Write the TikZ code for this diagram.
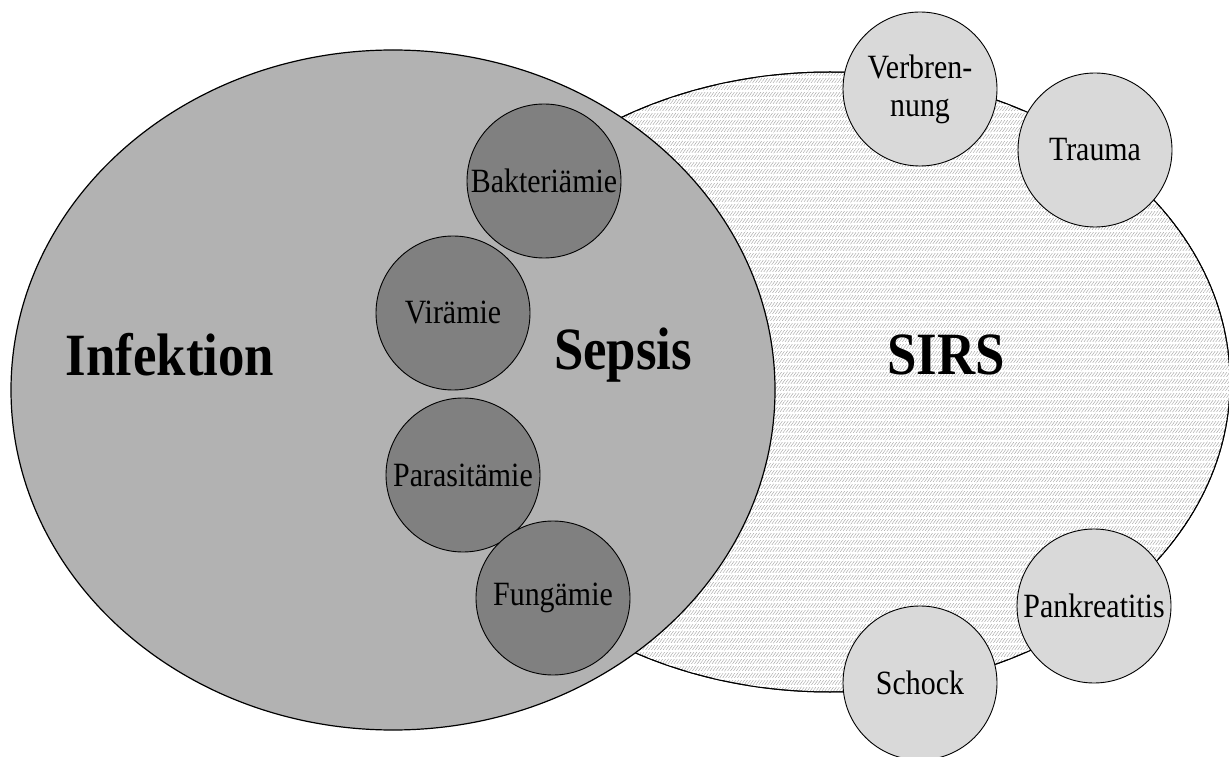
\documentclass[tikz,border=0pt]{standalone}
\usepackage{fontspec}
\setmainfont{Liberation Serif}
\newfontfamily\narrowserif[FakeStretch=0.88]{Liberation Serif}
\usepackage{tikz}
\usetikzlibrary{shapes.geometric,patterns.meta}

\begin{document}
\begin{tikzpicture}[x=1pt,y=1pt,
	bigtext/.style={font=\narrowserif\fontsize{60}{66}\selectfont\bfseries},
	darkblob/.style={circle,draw,line width=0.9pt,fill=black!50,inner sep=0pt,minimum size=154,font=\narrowserif\fontsize{34}{38}\selectfont},
	lightblob/.style={circle,draw,line width=0.9pt,fill=black!15,inner sep=0pt,minimum size=154,font=\narrowserif\fontsize{34}{38}\selectfont,align=center}]
	
	\useasboundingbox (0,0) rectangle (1229,756);
	
	% SIRS
	\node[ellipse,draw,line width=1pt,minimum width=800,minimum height=620,
		pattern={Lines[angle=55,distance=2.4pt,line width=0.45pt]},pattern color=black!35,
		postaction={pattern={Lines[angle=0,distance=7pt,line width=1.3pt]},pattern color=white}] (sirs) at (830,374) {};
	\draw[line width=1pt] (sirs.center) ellipse [x radius=400,y radius=310];
	% Infektion
	\node[ellipse,draw,line width=1.2pt,fill=black!30,minimum width=764,minimum height=680] (infektion) at (393,366) {};
	
	\node[darkblob] (bakt) at (544,575) {Bakteriämie};
	\node[darkblob] (vir) at (453,443) {Virämie};
	\node[darkblob] (para) at (463,281) {Parasitämie};
	\node[darkblob] (fung) at (553,158) {Fungämie};
	
	\node[lightblob] (verb) at (920,667) {Verbren-\\nung};
	\node[lightblob] (trauma) at (1095,606) {Trauma};
	\node[lightblob] (pank) at (1094,150) {Pankreatitis};
	\node[lightblob] (schock) at (920,73) {Schock};
	
	\node[bigtext] (inftext) at (170,401) {Infektion};
	\node[bigtext] (sepsistext) at (623,401) {Sepsis};
	\node[bigtext] (sirstext) at (946,401) {SIRS};
	
\end{tikzpicture}
\end{document}
